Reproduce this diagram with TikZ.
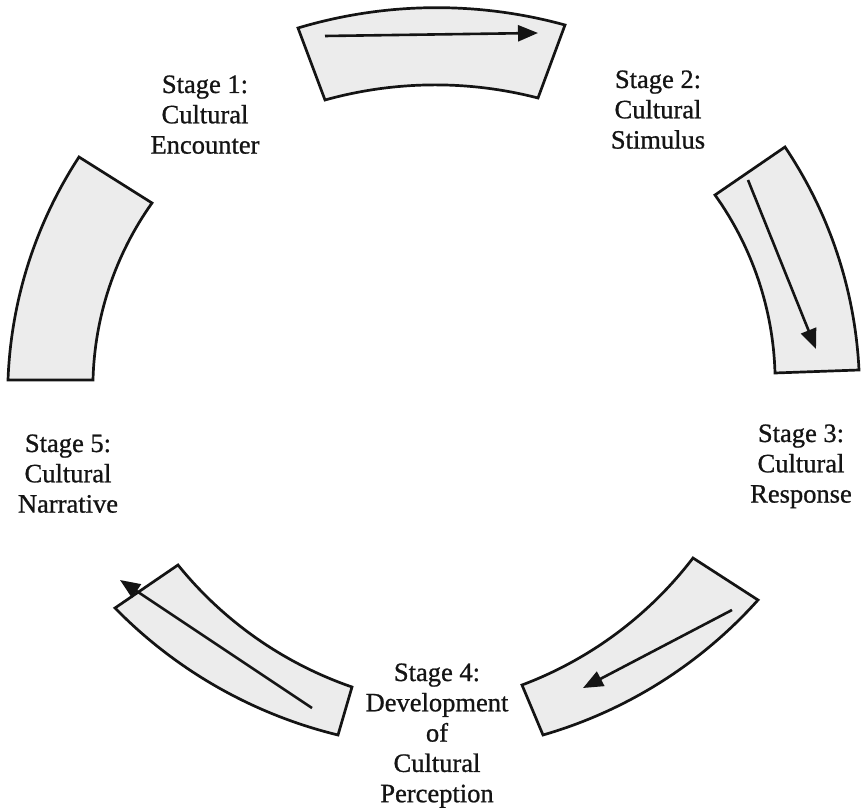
\documentclass[tikz,border=0pt]{standalone}
\usepackage{fontspec}
\setmainfont{Liberation Serif}[FakeBold=0.9]
\usetikzlibrary{arrows.meta}
\definecolor{segfill}{RGB}{236,236,236}
\definecolor{ink}{RGB}{20,20,20}
\begin{document}
\begin{tikzpicture}[x=1pt,y=1pt,
  seg/.style={draw=ink, fill=segfill, line width=2.7pt, line join=miter},
  arr/.style={draw=ink, line width=2.6pt, -{Triangle[length=20pt,width=16pt]}},
  ob/.style={bend right=#1, looseness=0.87},
  ib/.style={bend left=#1, looseness=0.87},
  lbl/.style={anchor=base, inner sep=0pt, text=ink, font=\fontsize{26.5pt}{30.3pt}\selectfont}]
\useasboundingbox (0,0) rectangle (862,809);
% segments
\draw[seg] (565,784) to[ob=16] (298,781) -- (325,709) to[ib=15] (538,711) -- cycle;
\draw[seg] (79,652) to[ob=15.5] (8,429) -- (93,429) to[ib=17] (152,606) -- cycle;
\draw[seg] (115,201) to[ob=16] (338,74) -- (352,122) to[ib=16] (178,244) -- cycle;
\draw[seg] (543,74) to[ob=16] (758,209) -- (693,251) to[ib=16] (522,124) -- cycle;
\draw[seg] (859,439) to[ob=15.5] (785,662) -- (715,614) to[ib=17] (775,436) -- cycle;
% arrows
\coordinate (a1s) at (325,773); \coordinate (a1e) at (538,776);
\coordinate (a2s) at (748,629); \coordinate (a2e) at (816,460);
\coordinate (a3s) at (732,199); \coordinate (a3e) at (583,121);
\coordinate (a4s) at (312,101); \coordinate (a4e) at (120,229);
\draw[arr] (a1s) -- (a1e);
\draw[arr] (a2s) -- (a2e);
\draw[arr] (a3s) -- (a3e);
\draw[arr] (a4s) -- (a4e);
% labels
\node[lbl] (st1) at (205,716) {\begin{tabular}[t]{@{}c@{}}Stage 1:\\Cultural\\Encounter\end{tabular}};
\node[lbl] (st2) at (658,721) {\begin{tabular}[t]{@{}c@{}}Stage 2:\\Cultural\\Stimulus\end{tabular}};
\node[lbl] (st3) at (801,367) {\begin{tabular}[t]{@{}c@{}}Stage 3:\\Cultural\\Response\end{tabular}};
\node[lbl] (st4) at (437,128) {\begin{tabular}[t]{@{}c@{}}Stage 4:\\Development\\of\\Cultural\\Perception\end{tabular}};
\node[lbl] (st5) at (68,357) {\begin{tabular}[t]{@{}c@{}}Stage 5:\\Cultural\\Narrative\end{tabular}};
\end{tikzpicture}
\end{document}
